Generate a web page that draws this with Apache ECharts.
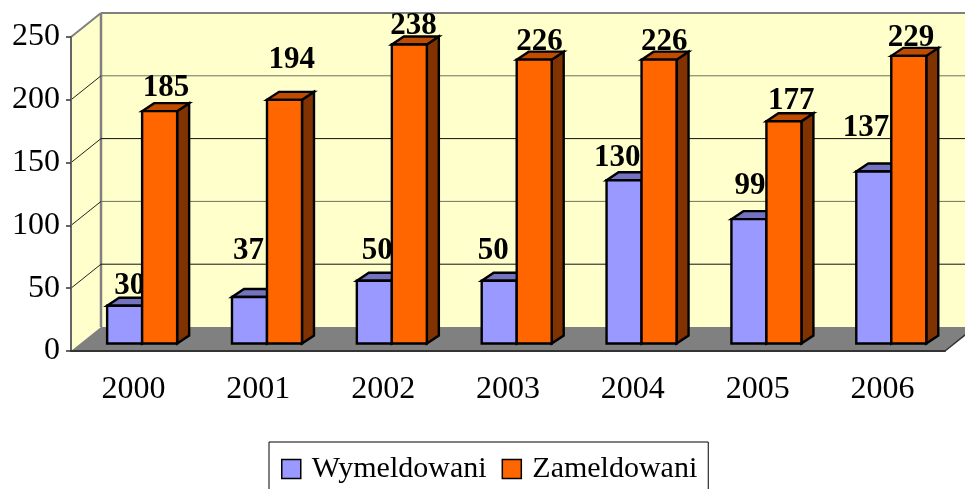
<!DOCTYPE html>
<html>
<head>
<meta charset="utf-8">
<title>Wymeldowani / Zameldowani</title>
<style>
  html, body { margin: 0; padding: 0; background: #fff; }
  #chart { width: 965px; height: 489px; }
</style>
<script src="https://cdn.jsdelivr.net/npm/echarts@6/dist/echarts.min.js"></script>
</head>
<body>
<div id="chart"></div>
<script>
const years = ['2000', '2001', '2002', '2003', '2004', '2005', '2006'];
const wymeldowani = [30, 37, 50, 50, 130, 99, 137];
const zameldowani = [185, 194, 238, 226, 226, 177, 229];
const yTicks = [0, 50, 100, 150, 200, 250];

const FONT = '"Liberation Serif", serif';

// przesuniecia pseudo 3D (piksele)
const WALL_DX = 30, WALL_DY = -24;
const BAR_DX = 8.7, BAR_DY = -7.5;
const BAR_W = 35;
const TOP_DX = 12, TOP_DY = -8;

// etykiety w oryginale byly recznie poprzesuwane [dx, dy]
const labelShiftWym = [[3, 2], [-3, -24], [1, -8], [-8, -8], [-1, 0], [-1, -11], [-2, -21]];
const labelShiftZam = [[1, -1], [2, -18], [-1, 3], [0, 4], [0, 4], [2, 2], [-3, 4]];

function poly(points, fill, stroke, width) {
  return {
    type: 'polygon',
    shape: { points: points },
    style: { fill: fill, stroke: stroke || null, lineWidth: width || 0, lineJoin: 'miter' }
  };
}

function line(x1, y1, x2, y2, color, width) {
  return {
    type: 'line',
    shape: { x1: x1, y1: y1, x2: x2, y2: y2 },
    style: { stroke: color, lineWidth: width, fill: null }
  };
}

// sciany i podloga
function renderWalls(params, api) {
  const r = params.coordSys;
  const l = r.x, rt = r.x + r.width, t = r.y, b = r.y + r.height;
  return {
    type: 'group',
    children: [
      poly([[l + WALL_DX, t + WALL_DY], [rt + WALL_DX, t + WALL_DY], [rt + WALL_DX, b + WALL_DY], [l + WALL_DX, b + WALL_DY]], '#FFFFCC'),
      poly([[l, t], [l + WALL_DX, t + WALL_DY], [l + WALL_DX, b + WALL_DY], [l, b]], '#FFFFCC'),
      poly([[l, b], [l + WALL_DX, b + WALL_DY], [rt + WALL_DX, b + WALL_DY], [rt, b]], '#808080'),
      line(l, t, l + WALL_DX, t + WALL_DY, '#808080', 2),
      line(l + WALL_DX, t + WALL_DY, rt + WALL_DX, t + WALL_DY, '#808080', 2),
      line(l + WALL_DX, t + WALL_DY, l + WALL_DX, b + WALL_DY, '#808080', 2.5),
      line(rt, b, rt + WALL_DX, b + WALL_DY, '#333', 1.5)
    ]
  };
}

// linie siatki: sciana lewa + tylna
function renderGridLine(params, api) {
  const r = params.coordSys;
  const v = api.value(1);
  const y = api.coord([0, v])[1];
  if (v === 0 || v === 250) return null;
  const color = (v === 200 || v === 100) ? '#707060' : '#111';
  return {
    type: 'group',
    children: [
      line(r.x, y, r.x + WALL_DX, y + WALL_DY, '#222', 1),
      line(r.x + WALL_DX, y + WALL_DY, r.x + r.width + WALL_DX, y + WALL_DY, color, 1)
    ]
  };
}

function barRenderer(side, color, topColor, sideColor, shifts) {
  return function (params, api) {
    const c = api.coord([api.value(0), 0]);
    const top = api.coord([api.value(0), api.value(1)]);
    const x0 = c[0] + BAR_DX + (side < 0 ? -BAR_W : 0);
    const x1 = x0 + BAR_W;
    const yb = c[1] + BAR_DY;
    const yt = top[1] + BAR_DY;
    const shift = shifts[params.dataIndex];
    const labelRight = side < 0 ? x1 : x1 + TOP_DX - 1;
    return {
      type: 'group',
      children: [
        poly([[x1, yb], [x1 + TOP_DX, yb + TOP_DY], [x1 + TOP_DX, yt + TOP_DY], [x1, yt]], sideColor, '#000', 2.4),
        poly([[x0, yt], [x0 + TOP_DX, yt + TOP_DY], [x1 + TOP_DX, yt + TOP_DY], [x1, yt]], topColor, '#000', 2.4),
        poly([[x0, yb], [x1, yb], [x1, yt], [x0, yt]], color, '#000', 2.4),
        {
          type: 'text',
          z2: 10,
          style: {
            text: String(api.value(1)),
            x: labelRight + shift[0],
            y: yt - 22 + shift[1],
            align: 'right',
            verticalAlign: 'middle',
            font: 'bold 31px ' + FONT,
            fill: '#000'
          }
        }
      ]
    };
  };
}

const chart = echarts.init(document.getElementById('chart'), null, { renderer: 'canvas' });

chart.setOption({
  animation: false,
  backgroundColor: '#fff',
  grid: { left: 71, right: 20, top: 37, bottom: 138 },
  legend: {
    left: 269,
    top: 442,
    data: ['Wymeldowani', 'Zameldowani'],
    icon: 'rect',
    itemWidth: 19,
    itemHeight: 19,
    itemGap: 15,
    borderColor: '#000',
    borderWidth: 1,
    padding: [12, 11, 30, 12],
    selectedMode: false,
    itemStyle: { borderColor: '#000', borderWidth: 1.5 },
    textStyle: { fontFamily: FONT, fontSize: 30, color: '#000', padding: [0, 0, 0, 6] }
  },
  xAxis: {
    type: 'category',
    data: years,
    z: 3,
    axisLine: { lineStyle: { color: '#333', width: 2 } },
    axisTick: { length: 7, lineStyle: { color: '#333', width: 1.5 } },
    axisLabel: { fontFamily: FONT, fontSize: 32, color: '#000', margin: 23 }
  },
  yAxis: {
    type: 'value',
    min: 0,
    max: 250,
    interval: 50,
    z: 3,
    splitLine: { show: false },
    axisLine: { show: true, lineStyle: { color: '#666', width: 2 } },
    axisTick: { show: true, length: 5, lineStyle: { color: '#333', width: 1.5 } },
    axisLabel: { fontFamily: FONT, fontSize: 32, color: '#000', margin: 11 }
  },
  series: [
    {
      type: 'custom',
      name: 'walls',
      z: 1,
      silent: true,
      renderItem: renderWalls,
      encode: { x: 0, y: 1 },
      data: [[0, 0]]
    },
    {
      type: 'custom',
      name: 'gridlines',
      z: 2,
      silent: true,
      renderItem: renderGridLine,
      encode: { x: 0, y: 1 },
      data: yTicks.map(function (t) { return [0, t]; })
    },
    {
      type: 'custom',
      name: 'Wymeldowani',
      z: 4,
      itemStyle: { color: '#9999FF' },
      renderItem: barRenderer(-1, '#9999FF', '#7373BF', '#4D4D80', labelShiftWym),
      encode: { x: 0, y: 1 },
      data: wymeldowani.map(function (v, i) { return [i, v]; })
    },
    {
      type: 'custom',
      name: 'Zameldowani',
      z: 5,
      itemStyle: { color: '#FF6600' },
      renderItem: barRenderer(1, '#FF6600', '#BF4C00', '#803300', labelShiftZam),
      encode: { x: 0, y: 1 },
      data: zameldowani.map(function (v, i) { return [i, v]; })
    }
  ]
});
</script>
</body>
</html>
